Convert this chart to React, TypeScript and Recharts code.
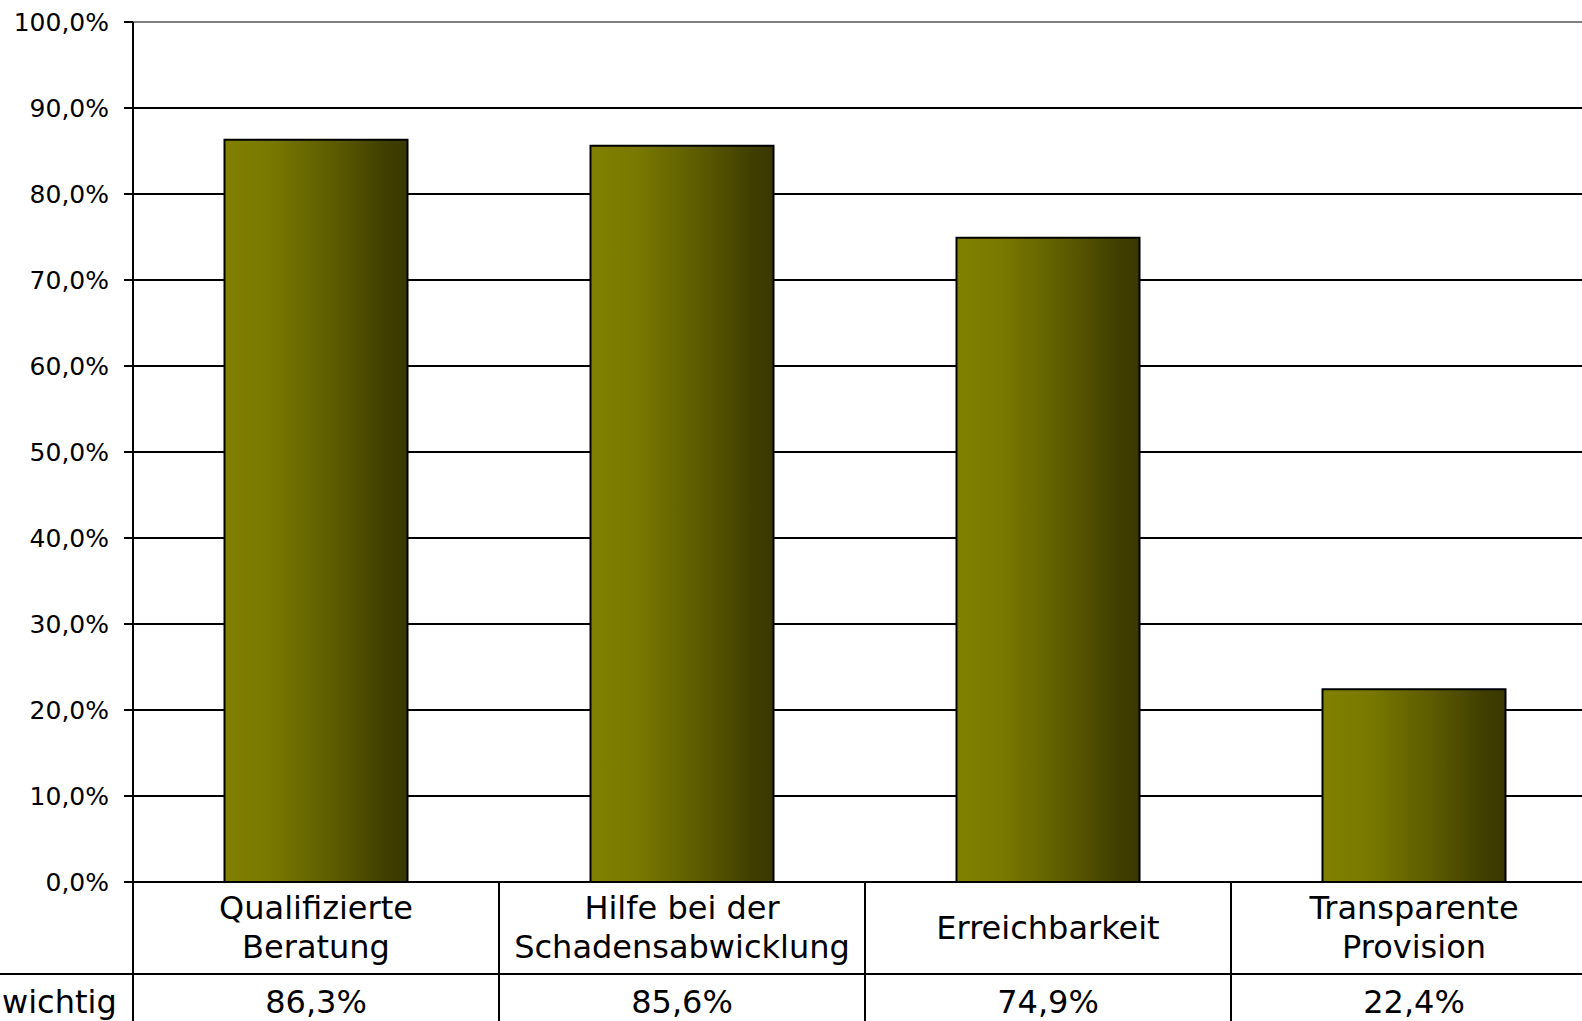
import { BarChart, Bar, XAxis, YAxis, CartesianGrid, ReferenceLine } from "recharts";

const categories = [
  "Qualifizierte\nBeratung",
  "Hilfe bei der\nSchadensabwicklung",
  "Erreichbarkeit",
  "Transparente\nProvision",
];
const wichtig = [86.3, 85.6, 74.9, 22.4];
const yTicks = [0, 10, 20, 30, 40, 50, 60, 70, 80, 90, 100];
const rowLabel = "wichtig";

const FONT = "'DejaVu Sans', Verdana, sans-serif";
const CHART_W = 1600;
const CHART_H = 1021;
const AXIS_X = 133;
const PLOT_TOP = 22;
const PLOT_BOTTOM = 882;
const ROW_SPLIT = 974;
const CAT_W = (CHART_W - 3 - AXIS_X) / categories.length;

const data = categories.map((name, i) => ({ name, value: wichtig[i] }));

const fmt = (v: number, digits: number) => v.toFixed(digits).replace(".", ",") + "%";

// x axis tick doubles as the data table cell below each bar
function TableTick(props: any) {
  const { x, index, payload } = props;
  const lines = String(payload.value).split("\n");
  const right = x + CAT_W / 2;
  const left = x - CAT_W / 2;
  return (
    <g>
      {index === 0 && (
        <g>
          <line x1={left} x2={left} y1={PLOT_BOTTOM} y2={CHART_H} stroke="#000" strokeWidth={2} />
          <line x1={0} x2={CHART_W} y1={ROW_SPLIT} y2={ROW_SPLIT} stroke="#000" strokeWidth={2} />
          <text x={2} y={1013} fontSize={32} fontFamily={FONT} fill="#000">
            {rowLabel}
          </text>
        </g>
      )}
      <line x1={right} x2={right} y1={PLOT_BOTTOM} y2={CHART_H} stroke="#000" strokeWidth={2} />
      {lines.map((l, i) => (
        <text
          key={i}
          x={x}
          y={lines.length === 1 ? 939 : 919 + i * 39}
          textAnchor="middle"
          fontSize={32}
          fontFamily={FONT}
          fill="#000"
        >
          {l}
        </text>
      ))}
      <text x={x} y={1013} textAnchor="middle" fontSize={32} fontFamily={FONT} fill="#000">
        {fmt(wichtig[index], 1)}
      </text>
    </g>
  );
}

export default function App() {
  return (
    <div
      style={{
        position: "absolute",
        left: 0,
        top: 0,
        width: 1582,
        height: 1021,
        overflow: "hidden",
        background: "#fff",
      }}
    >
      <BarChart
        width={CHART_W}
        height={CHART_H}
        data={data}
        margin={{ top: PLOT_TOP, right: 3, left: 0, bottom: 0 }}
        barCategoryGap="25%"
      >
        <defs>
          <linearGradient id="olive" x1="0" y1="0" x2="1" y2="0">
            <stop offset="0%" stopColor="#808000" />
            <stop offset="25%" stopColor="#797900" />
            <stop offset="60%" stopColor="#5c5b00" />
            <stop offset="88%" stopColor="#403f00" />
            <stop offset="100%" stopColor="#3a3800" />
          </linearGradient>
        </defs>
        <CartesianGrid vertical={false} stroke="#000" strokeWidth={2} />
        <ReferenceLine y={100} stroke="#808080" strokeWidth={2} />
        <XAxis
          dataKey="name"
          height={CHART_H - PLOT_BOTTOM}
          axisLine={{ stroke: "#000", strokeWidth: 2 }}
          tickLine={false}
          interval={0}
          tick={<TableTick />}
        />
        <YAxis
          width={AXIS_X}
          domain={[0, 100]}
          ticks={yTicks}
          interval={0}
          tickFormatter={(v: number) => fmt(v, 1)}
          tickSize={9}
          tickMargin={15}
          axisLine={{ stroke: "#000", strokeWidth: 2 }}
          tickLine={{ stroke: "#000", strokeWidth: 2 }}
          tick={{ fill: "#000", fontSize: 25, fontFamily: FONT }}
        />
        <Bar
          dataKey="value"
          fill="url(#olive)"
          stroke="#000"
          strokeWidth={2}
          isAnimationActive={false}
        />
      </BarChart>
    </div>
  );
}
